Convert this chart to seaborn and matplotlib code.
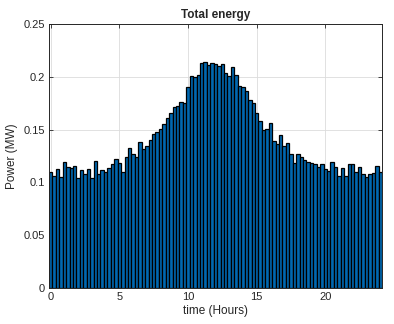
import matplotlib
matplotlib.use("Agg")
import matplotlib.pyplot as plt
import seaborn as sns
import numpy as np
import pandas as pd

# 15-minute steps over a day
hours = np.arange(0, 24.01, 0.25)
power = [
    0.110, 0.106, 0.113, 0.105, 0.119, 0.115, 0.114, 0.116, 0.104, 0.112,
    0.108, 0.113, 0.104, 0.120, 0.108, 0.112, 0.110, 0.114, 0.117, 0.122,
    0.118, 0.110, 0.124, 0.133, 0.127, 0.124, 0.138, 0.132, 0.134, 0.140,
    0.146, 0.148, 0.151, 0.155, 0.161, 0.166, 0.171, 0.172, 0.176, 0.175,
    0.190, 0.201, 0.200, 0.202, 0.213, 0.214, 0.211, 0.213, 0.212, 0.210,
    0.212, 0.204, 0.201, 0.209, 0.202, 0.191, 0.190, 0.187, 0.178, 0.175,
    0.166, 0.158, 0.150, 0.151, 0.156, 0.139, 0.136, 0.145, 0.134, 0.137,
    0.127, 0.118, 0.127, 0.124, 0.121, 0.119, 0.118, 0.117, 0.115, 0.117,
    0.113, 0.111, 0.119, 0.115, 0.106, 0.114, 0.106, 0.117, 0.117, 0.110,
    0.115, 0.108, 0.105, 0.108, 0.109, 0.116, 0.110,
]
x_ticks = [0, 5, 10, 15, 20]
y_ticks = [0, 0.05, 0.1, 0.15, 0.2, 0.25]
y_labels = ["0", "0.05", "0.1", "0.15", "0.2", "0.25"]

df = pd.DataFrame({"time": hours, "power": power})

sns.set_theme(style="ticks")
plt.rcParams["font.family"] = ["Liberation Sans", "DejaVu Sans"]

fig = plt.figure(figsize=(3.94, 3.24), dpi=100)
ax = fig.add_axes([0.1244, 0.111, 0.845, 0.815])

sns.barplot(data=df, x="time", y="power", native_scale=True, width=1.0,
            color="#0068B0", saturation=1, edgecolor="black", linewidth=0.9,
            errorbar=None, ax=ax)

ax.set_xlim(-0.125, 24.125)
ax.set_ylim(0, 0.25)
ax.set_xticks(x_ticks)
ax.set_xticklabels([str(t) for t in x_ticks])
ax.set_yticks(y_ticks)
ax.set_yticklabels(y_labels)
ax.grid(True, color="#dcdcdc", linewidth=0.6)
ax.set_axisbelow(True)
ax.tick_params(direction="in", top=True, right=True, length=3, width=0.6,
               labelsize=8, colors="#262626", pad=3)
for s in ax.spines.values():
    s.set_visible(True)
    s.set_color("#262626")
    s.set_linewidth(0.7)

ax.set_title("Total energy", fontsize=8.5, fontweight="bold", pad=4)
ax.set_xlabel("time (Hours)", fontsize=8.5, color="#262626", labelpad=2)
ax.set_ylabel("Power (MW)", fontsize=8.5, color="#262626", labelpad=4)

fig.savefig("out.png", dpi=100)
